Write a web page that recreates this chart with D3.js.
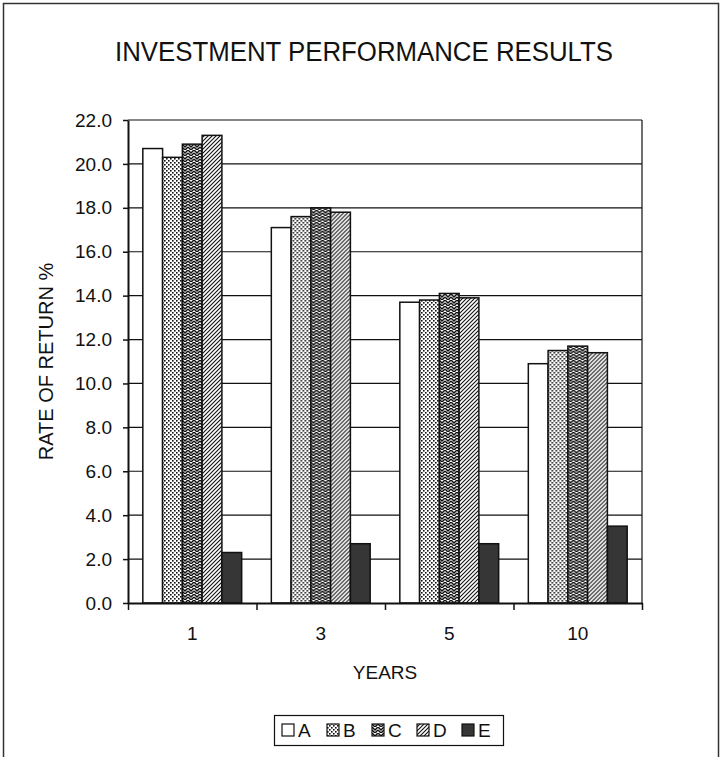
<!DOCTYPE html>
<html>
<head>
<meta charset="utf-8">
<script src="https://cdnjs.cloudflare.com/ajax/libs/d3/7.8.5/d3.min.js"></script>
<style>
  body { margin: 0; background: #fff; }
  svg { display: block; }
  text { font-family: "Liberation Sans", Arial, Helvetica, sans-serif; fill: #111; }
</style>
</head>
<body>
<svg id="chart" width="721" height="757"></svg>
<script>
// Holding periods (years) and the five portfolios
const years = ["1", "3", "5", "10"];
const seriesNames = ["A", "B", "C", "D", "E"];

// Annual rate of return (%) per holding period
const valuesA = [20.7, 17.1, 13.7, 10.9];
const valuesB = [20.3, 17.6, 13.8, 11.5];
const valuesC = [20.9, 18.0, 14.1, 11.7];
const valuesD = [21.3, 17.8, 13.9, 11.4];
const valuesE = [2.3, 2.7, 2.7, 3.5];

const yTicks = [0, 2, 4, 6, 8, 10, 12, 14, 16, 18, 20, 22];

const titleText = "INVESTMENT PERFORMANCE RESULTS";
const yTitle = "RATE OF RETURN %";
const xTitle = "YEARS";

const seriesValues = { A: valuesA, B: valuesB, C: valuesC, D: valuesD, E: valuesE };
const rows = years.map((yr, i) => ({
  year: yr,
  items: seriesNames.map(s => ({ key: s, value: seriesValues[s][i] }))
}));

const svg = d3.select("#chart");

// ---- fill patterns ----
const defs = svg.append("defs");

// B: fine stipple
const pB = defs.append("pattern").attr("id", "patB")
  .attr("patternUnits", "userSpaceOnUse").attr("width", 4).attr("height", 4);
pB.append("rect").attr("width", 4).attr("height", 4).attr("fill", "#fff");
pB.append("rect").attr("x", 0).attr("y", 0).attr("width", 1.6).attr("height", 1.6).attr("fill", "#111");
pB.append("rect").attr("x", 2).attr("y", 2).attr("width", 1.6).attr("height", 1.6).attr("fill", "#111");

// C: dense zig-zag weave
const pC = defs.append("pattern").attr("id", "patC")
  .attr("patternUnits", "userSpaceOnUse").attr("width", 6).attr("height", 6);
pC.append("rect").attr("width", 6).attr("height", 6).attr("fill", "#fff");
pC.append("path").attr("d", "M0,0 L3,3 L6,0 M0,3 L3,6 L6,3")
  .attr("stroke", "#111").attr("stroke-width", 1.5).attr("fill", "none");

// D: diagonal hatch
const pD = defs.append("pattern").attr("id", "patD")
  .attr("patternUnits", "userSpaceOnUse").attr("width", 4).attr("height", 4);
pD.append("rect").attr("width", 4).attr("height", 4).attr("fill", "#fff");
pD.append("path").attr("d", "M-1,1 L1,-1 M0,4 L4,0 M3,5 L5,3")
  .attr("stroke", "#111").attr("stroke-width", 1.1);

const fills = { A: "#ffffff", B: "url(#patB)", C: "url(#patC)", D: "url(#patD)", E: "#363636" };

// ---- outer frame ----
svg.append("rect")
  .attr("x", 3.5).attr("y", 3.5).attr("width", 715).attr("height", 780)
  .attr("fill", "none").attr("stroke", "#333").attr("stroke-width", 1.5);

// ---- scales ----
const plotLeft = 128, plotRight = 642, plotTop = 120, plotBottom = 603;

const x0 = d3.scaleBand().domain(years).range([plotLeft, plotRight]);
const x1 = d3.scaleBand().domain(seriesNames).range([0, x0.bandwidth()]).paddingOuter(0.75);
const y = d3.scaleLinear().domain([0, 22]).range([plotBottom, plotTop]);

// ---- gridlines ----
svg.append("g").selectAll("line")
  .data(yTicks.filter(t => t > 0))
  .join("line")
  .attr("x1", plotLeft).attr("x2", plotRight)
  .attr("y1", d => y(d)).attr("y2", d => y(d))
  .attr("stroke", "#111").attr("stroke-width", 1.2);

// right edge of plot
svg.append("line")
  .attr("x1", plotRight).attr("x2", plotRight)
  .attr("y1", y(22)).attr("y2", y(0))
  .attr("stroke", "#111").attr("stroke-width", 1.2);

// ---- bars ----
const groups = svg.append("g").selectAll("g")
  .data(rows)
  .join("g")
  .attr("transform", d => `translate(${x0(d.year)},0)`);

groups.selectAll("rect")
  .data(d => d.items)
  .join("rect")
  .attr("x", d => x1(d.key))
  .attr("width", x1.bandwidth())
  .attr("y", d => y(d.value))
  .attr("height", d => y(0) - y(d.value))
  .attr("fill", d => fills[d.key])
  .attr("stroke", "#111")
  .attr("stroke-width", 1.5);

// ---- y axis ----
const yAxis = svg.append("g")
  .attr("transform", `translate(${plotLeft},0)`)
  .call(d3.axisLeft(y).tickValues(yTicks).tickFormat(d3.format(".1f"))
    .tickSize(5).tickSizeOuter(0).tickPadding(11));
yAxis.select(".domain").attr("stroke", "#111").attr("stroke-width", 2);
yAxis.selectAll(".tick line").attr("stroke", "#111").attr("stroke-width", 1.5);
yAxis.selectAll(".tick text")
  .attr("font-size", 19).attr("fill", "#111")
  .style("font-family", '"Liberation Sans", Arial, sans-serif');

// ---- x axis: boundary ticks and category labels ----
const boundary = d3.scaleLinear().domain([0, years.length]).range([plotLeft, plotRight]);
const xTickAxis = svg.append("g")
  .attr("transform", `translate(0,${plotBottom})`)
  .call(d3.axisBottom(boundary).ticks(years.length).tickFormat("")
    .tickSize(7).tickSizeOuter(0));
xTickAxis.select(".domain").attr("stroke", "#111").attr("stroke-width", 2);
xTickAxis.selectAll(".tick line").attr("stroke", "#111").attr("stroke-width", 1.5);

const xLabelAxis = svg.append("g")
  .attr("transform", `translate(0,${plotBottom})`)
  .call(d3.axisBottom(x0).tickSize(0).tickPadding(24));
xLabelAxis.select(".domain").remove();
xLabelAxis.selectAll(".tick text")
  .attr("font-size", 19).attr("fill", "#111")
  .style("font-family", '"Liberation Sans", Arial, sans-serif');

// ---- titles ----
svg.append("text")
  .attr("x", 364).attr("y", 61)
  .attr("text-anchor", "middle")
  .attr("font-size", 27)
  .attr("textLength", 498)
  .attr("lengthAdjust", "spacingAndGlyphs")
  .text(titleText);

svg.append("text")
  .attr("transform", `translate(53,${(plotTop + plotBottom) / 2}) rotate(-90)`)
  .attr("text-anchor", "middle")
  .attr("font-size", 20)
  .text(yTitle);

svg.append("text")
  .attr("x", (plotLeft + plotRight) / 2).attr("y", 679)
  .attr("text-anchor", "middle")
  .attr("font-size", 19)
  .text(xTitle);

// ---- legend ----
const legendX = 274, legendY = 715, legendW = 229, legendH = 30, itemStep = 45;
const legend = svg.append("g");
legend.append("rect")
  .attr("x", legendX + 0.5).attr("y", legendY + 0.5)
  .attr("width", legendW).attr("height", legendH)
  .attr("fill", "#fff").attr("stroke", "#111").attr("stroke-width", 1.2);

const items = legend.selectAll("g.item")
  .data(seriesNames)
  .join("g")
  .attr("class", "item")
  .attr("transform", (d, i) => `translate(${legendX + 8 + i * itemStep},${legendY})`);

items.append("rect")
  .attr("x", 0).attr("y", 9).attr("width", 12).attr("height", 12)
  .attr("fill", d => fills[d]).attr("stroke", "#111").attr("stroke-width", 1.2);

items.append("text")
  .attr("x", 16).attr("y", 22)
  .attr("font-size", 19)
  .text(d => d);
</script>
</body>
</html>
